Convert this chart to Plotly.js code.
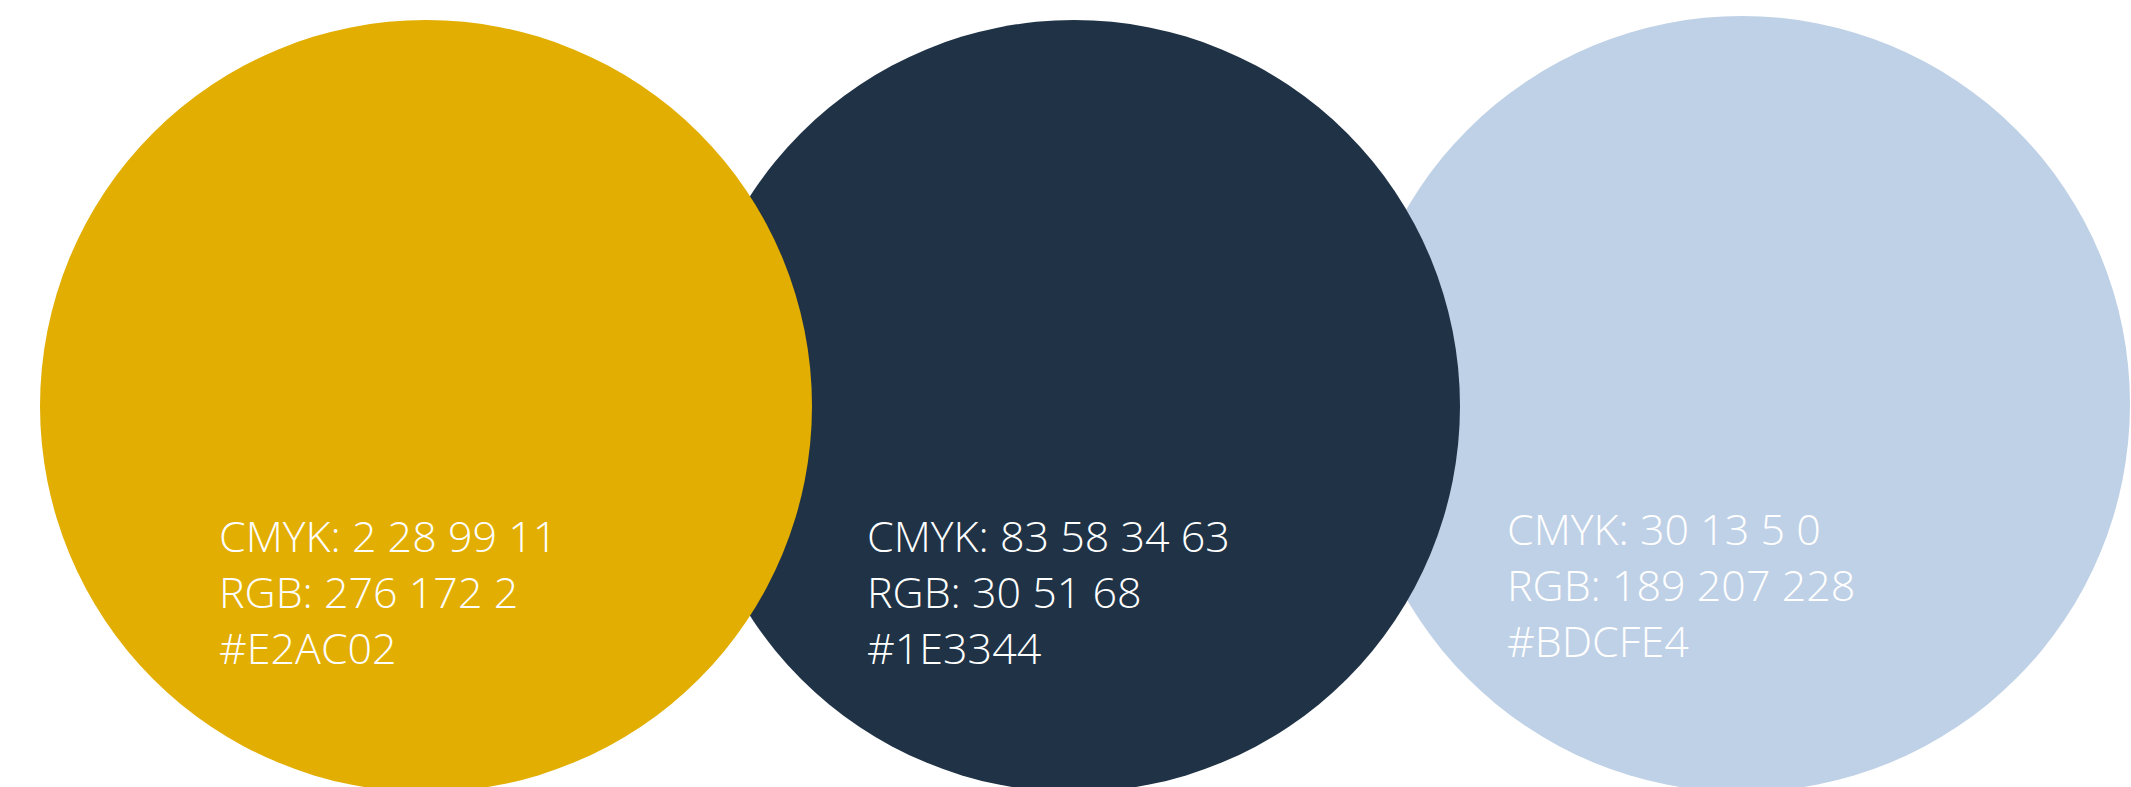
<!DOCTYPE html>
<html>
<head>
<meta charset="utf-8">
<script src="https://cdn.plot.ly/plotly-3.0.1.min.js"></script>
<style>html,body{margin:0;padding:0;background:#fff;overflow:hidden}</style>
</head>
<body>
<div id="chart" style="width:2131px;height:787px"></div>
<script>
// Swatch data
const swatchNames = ["Gold", "Navy", "Light Blue"];
const swatchFill = ["#E2AE01", "#203346", "#BFD1E6"];
const cmykValues = ["2 28 99 11", "83 58 34 63", "30 13 5 0"];
const rgbValues = ["276 172 2", "30 51 68", "189 207 228"];
const hexValues = ["#E2AC02", "#1E3344", "#BDCFE4"];

// Layout geometry (pixels, 1 unit = 1 px)
const W = 2131, H = 787;
const circleCx = [426, 1074, 1742];
const circleCy = [406, 406, 404];
const circleR = [386, 386, 388];
const textX = [217, 865, 1505];
const textBase = [550, 550, 543];
const lineGap = 56;
const fontSize = 43;

// draw order: light, navy, gold (gold on top)
const order = [2, 1, 0];
const shapes = order.map(i => ({
  type: "circle", xref: "x", yref: "y",
  x0: circleCx[i] - circleR[i], x1: circleCx[i] + circleR[i],
  y0: circleCy[i] - circleR[i], y1: circleCy[i] + circleR[i],
  fillcolor: swatchFill[i], line: {width: 0}, layer: "below"
}));

const annotations = [];
for (let i = 0; i < swatchNames.length; i++) {
  const lines = ["CMYK: " + cmykValues[i], "RGB: " + rgbValues[i], hexValues[i]];
  lines.forEach((t, k) => {
    annotations.push({
      x: textX[i], y: textBase[i] + k * lineGap - 15,
      xref: "x", yref: "y", text: t, showarrow: false,
      xanchor: "left", yanchor: "middle",
      font: {family: "Open Sans", size: fontSize, color: "#ffffff", weight: 300}
    });
  });
}

// invisible trace to set up axes
const trace = {x: circleCx, y: circleCy, mode: "markers", type: "scatter",
  marker: {opacity: 0}, hoverinfo: "skip", showlegend: false, text: swatchNames};

Plotly.newPlot("chart", [trace], {
  width: W, height: H,
  margin: {l: 0, r: 0, t: 0, b: 0},
  paper_bgcolor: "#ffffff", plot_bgcolor: "#ffffff",
  xaxis: {range: [0, W], visible: false, fixedrange: true},
  yaxis: {range: [H, 0], visible: false, fixedrange: true},
  shapes: shapes, annotations: annotations, showlegend: false
}, {staticPlot: true, displayModeBar: false});
</script>
</body>
</html>
